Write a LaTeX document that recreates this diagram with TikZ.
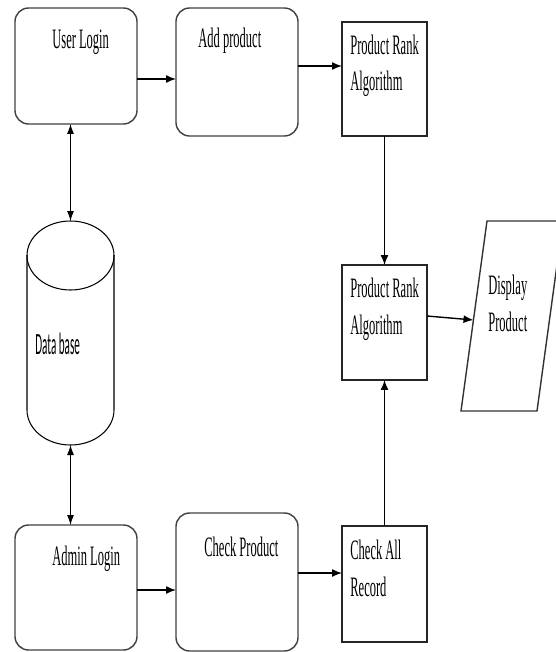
\documentclass[tikz,border=0pt]{standalone}
\usepackage{fontspec}
\setmainfont{Liberation Serif}[FakeStretch=0.445]
\newfontfamily\dbfont{Carlito}[FakeStretch=0.36]
\usetikzlibrary{arrows.meta}

\tikzset{
  roundbox/.style={draw=black!75, line width=0.8pt, rounded corners=0.27cm,
    minimum width=2.44cm, inner sep=0pt, outer sep=0pt},
  sqbox/.style={draw=black!85, line width=0.8pt, minimum width=1.7cm,
    inner sep=0pt, outer sep=0pt},
  lbl/.style={anchor=base west, inner sep=0pt, align=left,
    font=\fontsize{16}{20.5}\selectfont},
  flow/.style={-{Latex[length=2mm,width=1.6mm]}, line width=0.8pt},
  link/.style={{Latex[length=2mm,width=1.4mm]}-{Latex[length=2mm,width=1.4mm]}, line width=0.6pt}
}

\begin{document}
\begin{tikzpicture}[x=0.02cm,y=-0.02cm]
  \useasboundingbox (0,0) rectangle (555,652);
  % boxes
  \node[roundbox, minimum height=2.32cm] (user) at (76,66) {};
  \node[roundbox, minimum height=2.56cm] (add) at (237,72) {};
  \node[sqbox, minimum height=2.28cm] (rank1) at (384.5,79) {};
  \node[sqbox, minimum height=2.3cm] (rank2) at (384.5,322.5) {};
  \node[roundbox, minimum height=2.5cm] (admin) at (76,587.5) {};
  \node[roundbox, minimum height=2.76cm] (check) at (237,582) {};
  \node[sqbox, minimum height=2.32cm] (record) at (384.5,584) {};
  % database
  \draw[line width=0.6pt] (27,255) -- (27,410)
        arc[start angle=180, end angle=0, x radius=43.5, y radius=35] -- (114,255);
  \draw[line width=0.6pt] (70.5,255.5) ellipse [x radius=43.5, y radius=34.5];
  \coordinate (dbtop) at (70.5,221);
  \coordinate (dbbot) at (70.5,445);
  % display
  \draw[line width=0.8pt, draw=black!80] (487,221) -- (563,221) -- (537,411) -- (461,411) -- cycle;
  \coordinate (disp) at (473.5,320);

  \node[lbl] (userlbl) at (52,49) {User Login};
  \node[lbl] (addlbl) at (198,48) {Add product};
  \node[lbl] (rank1lbl) at (350,91) {Product Rank\\Algorithm};
  \node[lbl] (rank2lbl) at (350,334) {Product Rank\\Algorithm};
  \node[lbl] (displbl) at (488,331) {Display\\Product};
  \node[lbl, font=\dbfont\fontsize{17.6}{20}\selectfont] (dblbl) at (35,354) {Data base};
  \node[lbl] (adminlbl) at (52,565) {Admin Login};
  \node[lbl] (checklbl) at (204,556) {Check Product};
  \node[lbl] (recordlbl) at (350,596) {Check All\\Record};

  \draw[flow] ([yshift=-0.26cm]user.east) -- ([yshift=-0.26cm]user.east -| add.west);
  \draw[flow] ([yshift=0.12cm]add.east) -- ([yshift=0.12cm]add.east -| rank1.west);
  \draw[flow] (rank1.south) -- (rank2.north);
  \draw[flow] ([yshift=0.13cm]rank2.east) -- (disp);
  \draw[link] (user.south -| dbtop) -- (dbtop);
  \draw[link] (dbbot) -- (admin.north -| dbbot);
  \draw[flow] ([yshift=-0.05cm]admin.east) -- ([yshift=-0.05cm]admin.east -| check.west);
  \draw[flow] ([yshift=0.18cm]check.east) -- ([yshift=0.18cm]check.east -| record.west);
  \draw[flow] (record.north) -- (rank2.south);
\end{tikzpicture}
\end{document}
